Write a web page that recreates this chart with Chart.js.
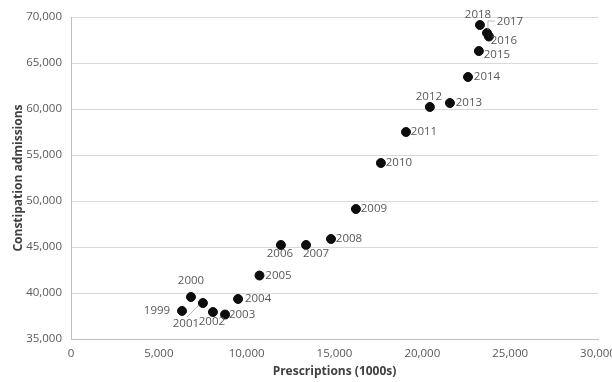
<!DOCTYPE html>
<html>
<head>
<meta charset="utf-8">
<script src="https://cdn.jsdelivr.net/npm/chart.js@4.4.0/dist/chart.umd.min.js"></script>
<style>
    body { margin: 0; background: #fff; }
    #wrap { width: 612px; height: 382px; }
</style>
</head>
<body>
<div id="wrap"><canvas id="myChart" width="612" height="382"></canvas></div>
<script>
// Data
var years = [1999, 2000, 2001, 2002, 2003, 2004, 2005, 2006, 2007, 2008,
             2009, 2010, 2011, 2012, 2013, 2014, 2015, 2016, 2017, 2018];
var prescriptions = [6320, 6830, 7510, 8080, 8770, 9510, 10730, 11950, 13380, 14800,
                     16220, 17640, 19070, 20430, 21570, 22600, 23220, 23790, 23680, 23280];
var admissions = [38050, 39570, 38910, 37930, 37660, 39350, 41900, 45220, 45220, 45870,
                  49130, 54130, 57500, 60220, 60650, 63480, 66300, 67880, 68260, 69130];
var xTicks = [0, 5000, 10000, 15000, 20000, 25000, 30000];
var yTicks = [35000, 40000, 45000, 50000, 55000, 60000, 65000, 70000];

// Where each year label sits relative to its dot (label centre, px)
var labelOffset = {
    1999: [-25, 0], 2000: [0, -16], 2001: [-17, 21], 2002: [-1, 10], 2003: [17, 0],
    2004: [20, 0], 2005: [19, 0], 2006: [-1, 9], 2007: [10, 9], 2008: [18, 0],
    2009: [18, 0], 2010: [18, 0], 2011: [18, 0], 2012: [-1, -10], 2013: [19, 0],
    2014: [19, 0], 2015: [18, 4], 2016: [15, 4], 2017: [23, -11], 2018: [-2, -10]
};
// Leader lines for labels moved away from their dots
var leaders = {
    2001: [[-16, 14], [-4, 2]],
    2017: [[8, -12], [1, -12], [1, -3]]
};

Chart.defaults.font.family = '"Open Sans", sans-serif';

var yearLabels = {
    id: 'yearLabels',
    afterDatasetsDraw(chart) {
        const ctx = chart.ctx;
        const meta = chart.getDatasetMeta(0);
        ctx.save();
        ctx.font = '11.5px "Open Sans"';
        ctx.fillStyle = '#595959';
        ctx.textAlign = 'center';
        ctx.textBaseline = 'middle';
        meta.data.forEach((pt, i) => {
            const yr = years[i];
            const off = labelOffset[yr];
            ctx.fillText(String(yr), pt.x + off[0], pt.y + off[1]);
            if (leaders[yr]) {
                ctx.strokeStyle = '#a6a6a6';
                ctx.lineWidth = 0.8;
                ctx.beginPath();
                leaders[yr].forEach((p, j) => {
                    if (j === 0) ctx.moveTo(pt.x + p[0], pt.y + p[1]);
                    else ctx.lineTo(pt.x + p[0], pt.y + p[1]);
                });
                ctx.stroke();
            }
        });
        ctx.restore();
    }
};

var fmt = v => Number(v).toLocaleString('en-US');

var myChart = new Chart(document.getElementById('myChart'), {
    type: 'scatter',
    data: {
        datasets: [{
            data: prescriptions.map((x, i) => ({ x: x, y: admissions[i] })),
            backgroundColor: '#0d0d0d',
            borderColor: '#0d0d0d',
            pointRadius: 4.5,
            pointHoverRadius: 4.5
        }]
    },
    options: {
        responsive: false,
        animation: false,
        layout: { padding: { top: 17, right: 14, left: 0, bottom: 0 } },
        plugins: { legend: { display: false }, tooltip: { enabled: false } },
        scales: {
            x: {
                type: 'linear',
                min: xTicks[0],
                max: xTicks[xTicks.length - 1],
                afterBuildTicks: s => { s.ticks = xTicks.map(v => ({ value: v })); },
                ticks: { padding: 8, color: '#595959', font: { size: 11.5 }, maxRotation: 0, callback: fmt },
                grid: { display: false, drawTicks: false },
                border: { display: true, color: '#bfbfbf', width: 1 },
                title: {
                    display: true, text: 'Prescriptions (1000s)', color: '#404040',
                    font: { size: 12, weight: 'bold' }, padding: { top: 0, bottom: 3 }
                },
                afterFit: s => { s.height = 43; s.paddingLeft = 0; s.paddingRight = 0; }
            },
            y: {
                type: 'linear',
                min: yTicks[0],
                max: yTicks[yTicks.length - 1],
                afterBuildTicks: s => { s.ticks = yTicks.map(v => ({ value: v })); },
                ticks: { padding: 9, color: '#595959', font: { size: 11.5 }, callback: fmt },
                grid: { color: '#d9d9d9', drawTicks: false },
                border: { display: true, color: '#bfbfbf', width: 1 },
                title: {
                    display: true, text: 'Constipation admissions', color: '#404040',
                    font: { size: 12, weight: 'bold' }, padding: { top: 11, bottom: 0 }
                },
                afterFit: s => { s.width = 71; }
            }
        }
    },
    plugins: [yearLabels]
});
</script>
</body>
</html>
